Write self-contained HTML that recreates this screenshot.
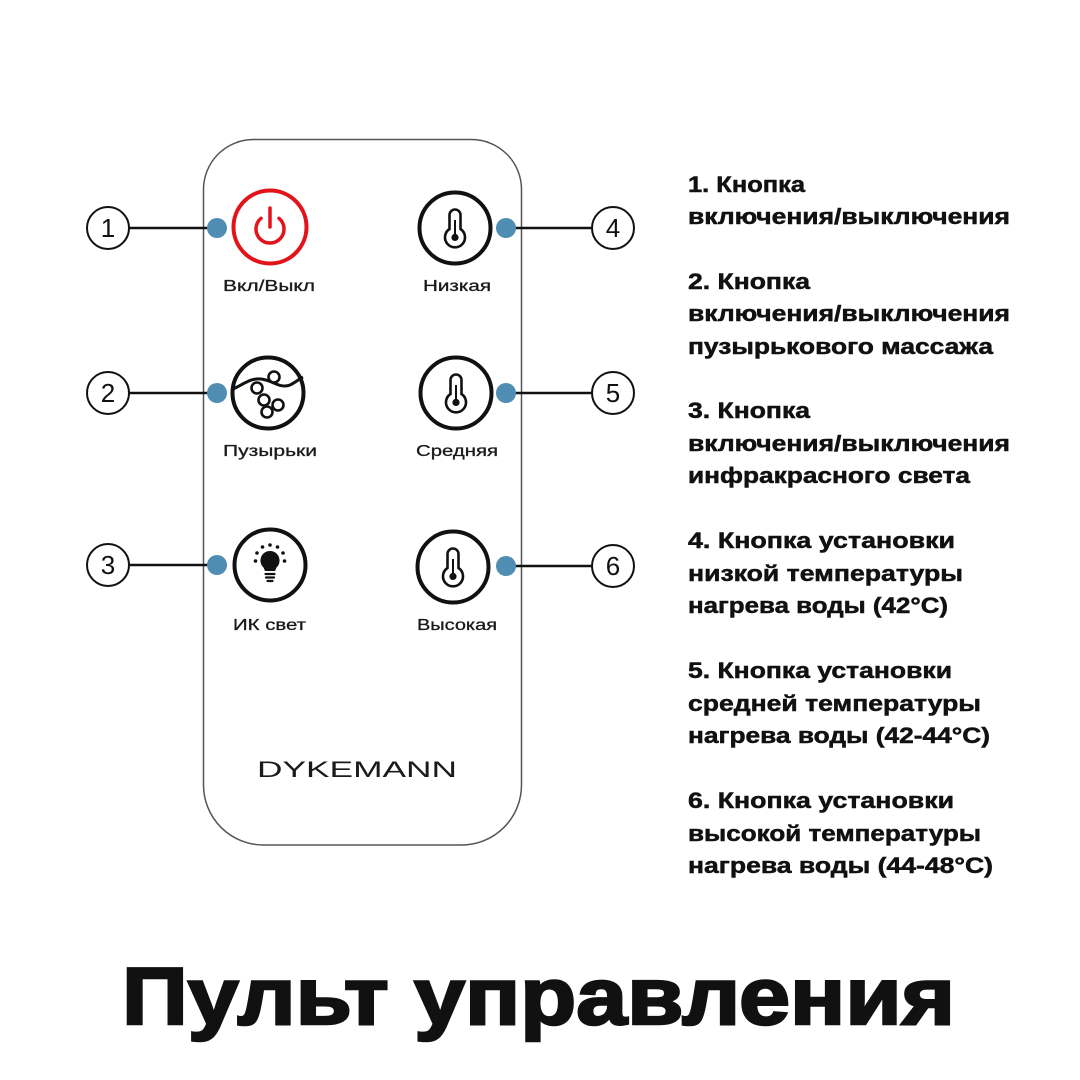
<!DOCTYPE html>
<html><head><meta charset="utf-8"><style>
html,body{margin:0;padding:0;background:#fff;}
svg{display:block;}
text{font-family:"Liberation Sans","DejaVu Sans",sans-serif;}
</style></head><body>
<svg width="1080" height="1080" viewBox="0 0 1080 1080" xmlns="http://www.w3.org/2000/svg">
<rect width="1080" height="1080" fill="#fff"/>
<!-- remote body -->
<path d="M253.5,139.5 H471.5 A50 50 0 0 1 521.5 189.5 V785 A60 60 0 0 1 461.5 845 H263.5 A60 60 0 0 1 203.5 785 V189.5 A50 50 0 0 1 253.5 139.5 Z" fill="none" stroke="#555" stroke-width="1.5"/>

<!-- connectors -->
<g stroke="#111" stroke-width="2.5">
<line x1="129" y1="228" x2="217" y2="228"/>
<line x1="129" y1="393" x2="217" y2="393"/>
<line x1="129" y1="565" x2="217" y2="565"/>
<line x1="506" y1="228" x2="592" y2="228"/>
<line x1="506" y1="393" x2="592" y2="393"/>
<line x1="506" y1="566" x2="592" y2="566"/>
</g>
<g fill="#4f8db3">
<circle cx="217" cy="228" r="10"/>
<circle cx="217" cy="393" r="10"/>
<circle cx="217" cy="565" r="10"/>
<circle cx="506" cy="228" r="10"/>
<circle cx="506" cy="393" r="10"/>
<circle cx="506" cy="566" r="10"/>
</g>
<!-- callouts -->
<g fill="#fff" stroke="#111" stroke-width="2">
<circle cx="108" cy="228" r="21"/>
<circle cx="108" cy="393" r="21"/>
<circle cx="108" cy="565" r="21"/>
<circle cx="613" cy="228" r="21"/>
<circle cx="613" cy="393" r="21"/>
<circle cx="613" cy="566" r="21"/>
</g>
<g font-size="26" fill="#111" text-anchor="middle">
<text x="108" y="237">1</text>
<text x="108" y="402">2</text>
<text x="108" y="574">3</text>
<text x="613" y="237">4</text>
<text x="613" y="402">5</text>
<text x="613" y="575">6</text>
</g>

<!-- power button -->
<circle cx="270" cy="227" r="36.5" fill="none" stroke="#e3131b" stroke-width="4"/>
<path d="M279,218.3 A14 14 0 1 1 261 218.3" fill="none" stroke="#e3131b" stroke-width="3.5" stroke-linecap="round"/>
<line x1="270" y1="208" x2="270" y2="227" stroke="#e3131b" stroke-width="3.5" stroke-linecap="round"/>

<!-- bubbles button -->
<circle cx="268" cy="393" r="35.5" fill="none" stroke="#111" stroke-width="4"/>
<path d="M233,389 C244,384 250,378 261,379 C272,380 280,389 290,385 C296,382 299,379 303,377" fill="none" stroke="#111" stroke-width="3"/>
<g fill="#fff" stroke="#111" stroke-width="2.6">
<circle cx="274" cy="377" r="5.5"/>
<circle cx="257" cy="388" r="5.5"/>
<circle cx="264" cy="400" r="5.5"/>
<circle cx="278" cy="405" r="5.5"/>
<circle cx="267" cy="412" r="5.5"/>
</g>

<!-- IR light button -->
<circle cx="270" cy="565" r="35.5" fill="none" stroke="#111" stroke-width="4"/>
<path d="M270,551 A9.5 9.5 0 0 1 276.5 567.5 L275,571 H265 L263.5,567.5 A9.5 9.5 0 0 1 270 551 Z" fill="#111"/>
<g stroke="#111" stroke-width="2.2" stroke-linecap="round">
<line x1="265.5" y1="574" x2="274.5" y2="574"/>
<line x1="266" y1="577.5" x2="274" y2="577.5"/>
<line x1="267.5" y1="581" x2="272.5" y2="581"/>
</g>
<g fill="#111">
<circle cx="270" cy="545" r="1.8"/>
<circle cx="262.5" cy="547" r="1.8"/>
<circle cx="277.5" cy="547" r="1.8"/>
<circle cx="257" cy="553" r="1.8"/>
<circle cx="283" cy="553" r="1.8"/>
<circle cx="255.5" cy="561" r="1.8"/>
<circle cx="284.5" cy="561" r="1.8"/>
</g>

<!-- thermometer buttons -->
<g fill="none" stroke="#111" stroke-width="4">
<circle cx="455" cy="228" r="35.5"/>
<circle cx="456" cy="393" r="35.5"/>
<circle cx="453" cy="567" r="35.5"/>
</g>
<g fill="none" stroke="#111" stroke-width="2.6">
<path d="M449.5,229 V215 A5.5 5.5 0 0 1 460.5 215 V229 A10 10 0 1 1 449.5 229 Z"/>
<path d="M450.5,394 V380 A5.5 5.5 0 0 1 461.5 380 V394 A10 10 0 1 1 450.5 394 Z"/>
<path d="M447.5,568 V554 A5.5 5.5 0 0 1 458.5 554 V568 A10 10 0 1 1 447.5 568 Z"/>
</g>
<g fill="#111">
<circle cx="455" cy="237.4" r="3.6"/><rect x="454" y="220" width="2" height="17"/>
<circle cx="456" cy="402.4" r="3.6"/><rect x="455" y="385" width="2" height="17"/>
<circle cx="453" cy="576.4" r="3.6"/><rect x="452" y="559" width="2" height="17"/>
</g>

<!-- button labels -->
<g font-size="16" fill="#1a1a1a" stroke="#1a1a1a" stroke-width="0.3">
<text x="223" y="291" textLength="92" lengthAdjust="spacingAndGlyphs">Вкл/Выкл</text>
<text x="423" y="291" textLength="68" lengthAdjust="spacingAndGlyphs">Низкая</text>
<text x="223" y="456" textLength="94" lengthAdjust="spacingAndGlyphs">Пузырьки</text>
<text x="416" y="456" textLength="82" lengthAdjust="spacingAndGlyphs">Средняя</text>
<text x="233" y="630" textLength="73" lengthAdjust="spacingAndGlyphs">ИК свет</text>
<text x="417" y="630" textLength="80" lengthAdjust="spacingAndGlyphs">Высокая</text>
</g>

<!-- brand -->
<text x="257" y="777" font-size="22" fill="#1a1a1a" textLength="200" lengthAdjust="spacingAndGlyphs">DYKEMANN</text>

<!-- right descriptions -->
<g font-size="22" font-weight="bold" fill="#111" stroke="#111" stroke-width="0.5">
<text x="688" y="192" textLength="117" lengthAdjust="spacingAndGlyphs">1. Кнопка</text>
<text x="688" y="224" textLength="322" lengthAdjust="spacingAndGlyphs">включения/выключения</text>

<text x="688" y="289" textLength="122" lengthAdjust="spacingAndGlyphs">2. Кнопка</text>
<text x="688" y="321" textLength="322" lengthAdjust="spacingAndGlyphs">включения/выключения</text>
<text x="688" y="354" textLength="305" lengthAdjust="spacingAndGlyphs">пузырькового массажа</text>

<text x="688" y="418" textLength="122" lengthAdjust="spacingAndGlyphs">3. Кнопка</text>
<text x="688" y="451" textLength="322" lengthAdjust="spacingAndGlyphs">включения/выключения</text>
<text x="688" y="483" textLength="282" lengthAdjust="spacingAndGlyphs">инфракрасного света</text>

<text x="688" y="548" textLength="267" lengthAdjust="spacingAndGlyphs">4. Кнопка установки</text>
<text x="688" y="581" textLength="275" lengthAdjust="spacingAndGlyphs">низкой температуры</text>
<text x="688" y="613" textLength="260" lengthAdjust="spacingAndGlyphs">нагрева воды (42°C)</text>

<text x="688" y="678" textLength="264" lengthAdjust="spacingAndGlyphs">5. Кнопка установки</text>
<text x="688" y="711" textLength="293" lengthAdjust="spacingAndGlyphs">средней температуры</text>
<text x="688" y="743" textLength="302" lengthAdjust="spacingAndGlyphs">нагрева воды (42-44°C)</text>

<text x="688" y="808" textLength="266" lengthAdjust="spacingAndGlyphs">6. Кнопка установки</text>
<text x="688" y="841" textLength="293" lengthAdjust="spacingAndGlyphs">высокой температуры</text>
<text x="688" y="873" textLength="305" lengthAdjust="spacingAndGlyphs">нагрева воды (44-48°C)</text>
</g>

<!-- title -->
<text x="122" y="1024" font-size="81" font-weight="bold" fill="#111" stroke="#111" stroke-width="2.5" textLength="833" lengthAdjust="spacingAndGlyphs">Пульт управления</text>
</svg>
</body></html>
